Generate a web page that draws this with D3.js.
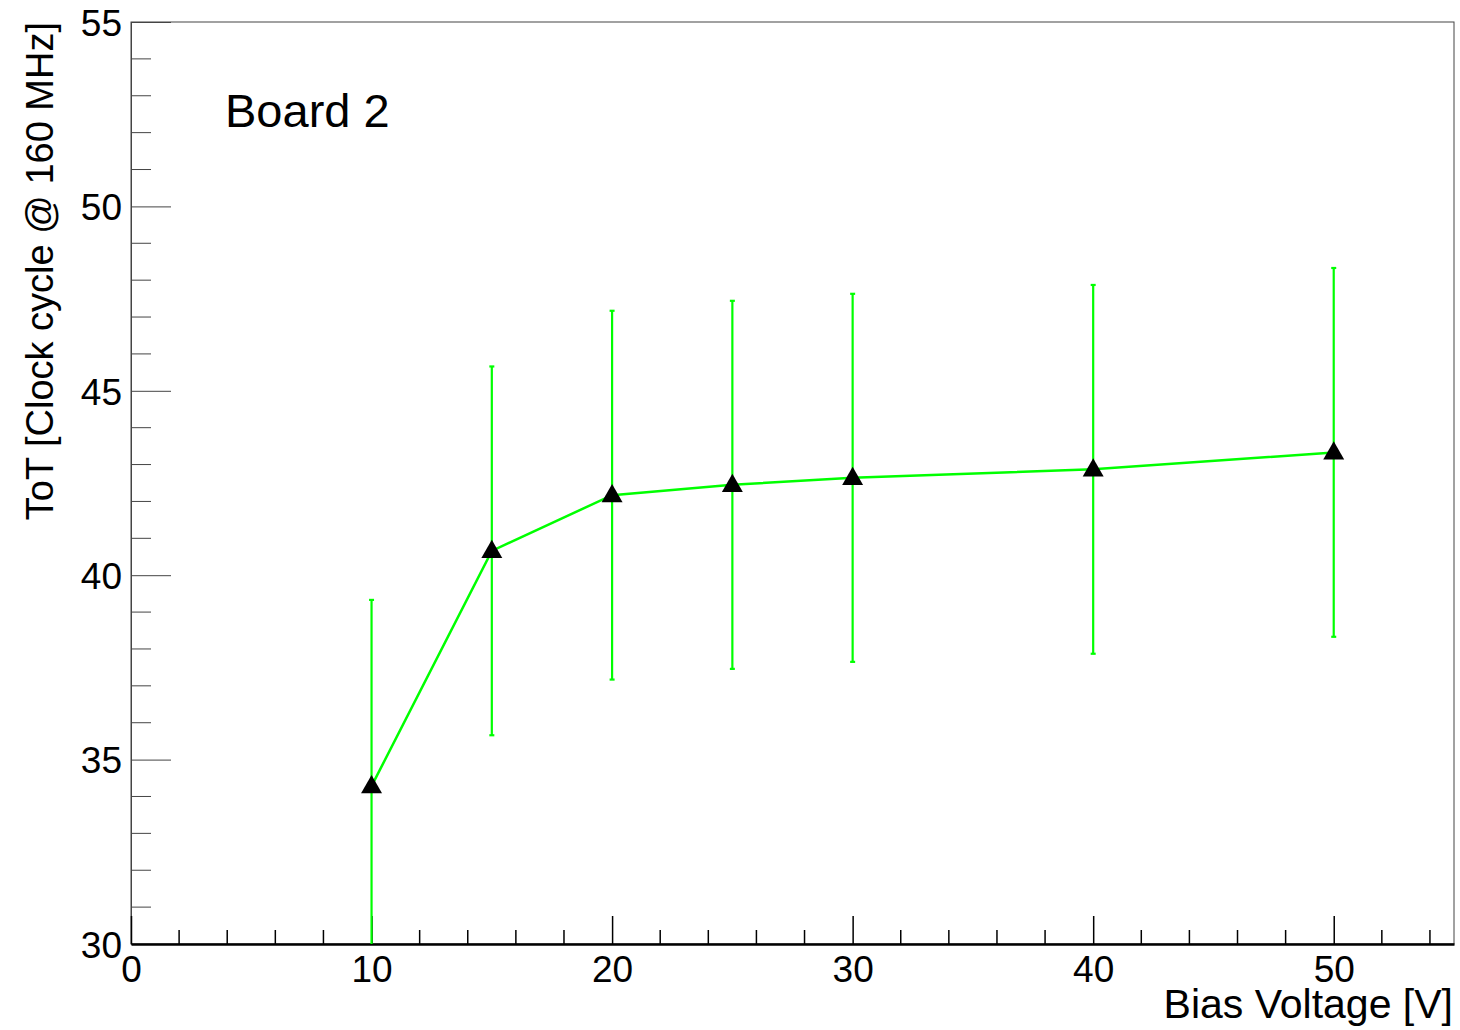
<!DOCTYPE html>
<html>
<head>
<meta charset="utf-8">
<script src="https://cdn.jsdelivr.net/npm/d3@7"></script>
<style>
  html, body { margin: 0; padding: 0; background: #fff; }
  svg { display: block; font-family: "Liberation Sans", Arial, sans-serif; }
</style>
</head>
<body>
<div id="chart"></div>
<script>
// bias voltage [V]
const voltages = [10, 15, 20, 25, 30, 40, 50];
// mean ToT [clock cycles @ 160 MHz]
const totMeans = [34.28, 40.66, 42.17, 42.45, 42.64, 42.87, 43.33];
// error bar half-lengths
const totErrors = [5.05, 5.0, 5.0, 4.99, 4.99, 5.0, 5.0];
const xTicks = [0, 10, 20, 30, 40, 50];
const yTicks = [30, 35, 40, 45, 50, 55];
const boardLabel = "Board 2";
const xTitle = "Bias Voltage [V]";
const yTitle = "ToT [Clock cycle @ 160 MHz]";

const w = 1460, h = 1030;
const margin = { left: 131, right: 6, top: 22, bottom: 86 };

const svg = d3.select("#chart").append("svg")
  .attr("width", w)
  .attr("height", h);

const x = d3.scaleLinear().domain([0, 55]).range([margin.left, w - margin.right]);
const y = d3.scaleLinear().domain([30, 55]).range([h - margin.bottom, margin.top]);

const points = voltages.map((v, i) => ({ v: v, m: totMeans[i], e: totErrors[i] }));

// frame (top + right)
svg.append("rect")
  .attr("x", x(0)).attr("y", y(55))
  .attr("width", x(55) - x(0)).attr("height", y(30) - y(55))
  .attr("fill", "none").attr("stroke", "#444").attr("stroke-width", 1);

// y minor ticks (every 1)
const yMinor = d3.range(30, 55.01, 1).filter(d => d % 5 !== 0);
svg.append("g").selectAll("line").data(yMinor).enter().append("line")
  .attr("x1", x(0)).attr("x2", x(0) + 20)
  .attr("y1", d => y(d)).attr("y2", d => y(d))
  .attr("stroke", "#444").attr("stroke-width", 1);

// y axis
const yAxis = d3.axisLeft(y).tickValues(yTicks).tickSizeInner(-40).tickSizeOuter(0).tickPadding(9);
const gy = svg.append("g")
  .attr("transform", "translate(" + x(0) + ",0)")
  .call(yAxis);
gy.select(".domain").attr("stroke", "#444");
gy.selectAll(".tick line").attr("stroke", "#444");
gy.selectAll("text")
  .attr("font-size", 37)
  .attr("font-family", "Liberation Sans, Arial, sans-serif")
  .attr("fill", "#000")
  .attr("dy", "0.36em");

// x minor ticks (every 2)
const xMinor = d3.range(0, 55.01, 2).filter(d => d % 10 !== 0);
svg.append("g").selectAll("line").data(xMinor).enter().append("line")
  .attr("x1", d => x(d)).attr("x2", d => x(d))
  .attr("y1", y(30)).attr("y2", y(30) - 14)
  .attr("stroke", "#000").attr("stroke-width", 1.5);

// x axis
const xAxis = d3.axisBottom(x).tickValues(xTicks).tickSizeInner(-28).tickSizeOuter(0).tickPadding(6);
const gx = svg.append("g")
  .attr("transform", "translate(0," + y(30) + ")")
  .call(xAxis);
gx.select(".domain").attr("stroke", "#000").attr("stroke-width", 2.5);
gx.selectAll(".tick line").attr("stroke", "#000").attr("stroke-width", 1.5);
gx.selectAll("text")
  .attr("font-size", 37)
  .attr("font-family", "Liberation Sans, Arial, sans-serif")
  .attr("fill", "#000")
  .attr("y", 38)
  .attr("dy", 0);

// error bars
const clipY = v => Math.max(30, Math.min(55, v));
const eb = svg.append("g").attr("stroke", "#00ff00").attr("stroke-width", 2.2);
eb.selectAll("line.bar").data(points).enter().append("line")
  .attr("class", "bar")
  .attr("x1", d => x(d.v)).attr("x2", d => x(d.v))
  .attr("y1", d => y(clipY(d.m - d.e))).attr("y2", d => y(clipY(d.m + d.e)));
eb.selectAll("line.capTop").data(points).enter().append("line")
  .attr("class", "capTop")
  .attr("x1", d => x(d.v) - 2.5).attr("x2", d => x(d.v) + 2.5)
  .attr("y1", d => y(d.m + d.e)).attr("y2", d => y(d.m + d.e));
eb.selectAll("line.capBot").data(points.filter(d => d.m - d.e >= 30)).enter().append("line")
  .attr("class", "capBot")
  .attr("x1", d => x(d.v) - 2.5).attr("x2", d => x(d.v) + 2.5)
  .attr("y1", d => y(d.m - d.e)).attr("y2", d => y(d.m - d.e));

// connecting line
const line = d3.line().x(d => x(d.v)).y(d => y(d.m));
svg.append("path")
  .datum(points)
  .attr("d", line)
  .attr("fill", "none")
  .attr("stroke", "#00ff00")
  .attr("stroke-width", 2.5);

// triangle markers
const tri = d3.symbol().type(d3.symbolTriangle).size(190);
svg.append("g").selectAll("path").data(points).enter().append("path")
  .attr("d", tri)
  .attr("transform", d => "translate(" + x(d.v) + "," + (y(d.m) + 1) + ")")
  .attr("fill", "#000");

// board label
svg.append("text")
  .text(boardLabel)
  .attr("x", 225)
  .attr("y", 127)
  .attr("font-size", 47)
  .attr("fill", "#000");

// x title
svg.append("text")
  .text(xTitle)
  .attr("x", x(55) - 1)
  .attr("y", 1018)
  .attr("text-anchor", "end")
  .attr("font-size", 41)
  .attr("fill", "#000");

// y title
svg.append("text")
  .text(yTitle)
  .attr("transform", "translate(53," + margin.top + ") rotate(-90)")
  .attr("text-anchor", "end")
  .attr("font-size", 38)
  .attr("fill", "#000");
</script>
</body>
</html>
